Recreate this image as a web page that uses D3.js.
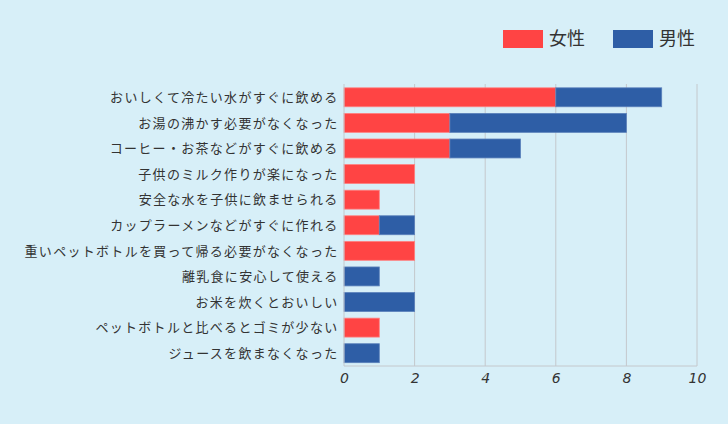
<!DOCTYPE html>
<html><head><meta charset="utf-8">
<script src="https://cdn.jsdelivr.net/npm/d3@7"></script>
<style>
html,body{margin:0;padding:0;background:#d7eff8;}
svg{display:block;}
</style></head>
<body>
<svg id="c" width="728" height="424"></svg>
<script>
const categories = [
  "おいしくて冷たい水がすぐに飲める",
  "お湯の沸かす必要がなくなった",
  "コーヒー・お茶などがすぐに飲める",
  "子供のミルク作りが楽になった",
  "安全な水を子供に飲ませられる",
  "カップラーメンなどがすぐに作れる",
  "重いペットボトルを買って帰る必要がなくなった",
  "離乳食に安心して使える",
  "お米を炊くとおいしい",
  "ペットボトルと比べるとゴミが少ない",
  "ジュースを飲まなくなった"
];
const female = [6, 3, 3, 2, 1, 1, 2, 0, 0, 1, 0];
const male   = [3, 5, 2, 0, 0, 1, 0, 1, 2, 0, 1];
const seriesNames = ["女性", "男性"];
const seriesColors = ["#ff4444", "#2e5ea6"];
const tickValues = [0, 2, 4, 6, 8, 10];

const font = "'Noto Sans CJK JP','Noto Sans',sans-serif";
const svg = d3.select("#c");
svg.append("rect").attr("width",728).attr("height",424).attr("fill","#d7eff8");

const x = d3.scaleLinear().domain([0,10]).range([344,697]);
const y = d3.scaleBand().domain(categories).range([84.5,366]).paddingInner(0.26).paddingOuter(0.13);

// gridlines
svg.append("g").selectAll("line").data(tickValues.slice(1)).join("line")
  .attr("x1",d=>x(d)).attr("x2",d=>x(d)).attr("y1",84).attr("y2",366)
  .attr("stroke","#c4c8cc").attr("stroke-width",1);

const rows = categories.map((c,i)=>({c, vals:[female[i], male[i]]}));
const segs = [];
rows.forEach(r=>{ let acc=0; r.vals.forEach((v,k)=>{ if(v>0) segs.push({c:r.c,x0:acc,x1:acc+v,k}); acc+=v; }); });

svg.append("g").selectAll("rect").data(segs).join("rect")
  .attr("x",d=>x(d.x0)).attr("width",d=>x(d.x1)-x(d.x0))
  .attr("y",d=>y(d.c)).attr("height",y.bandwidth())
  .attr("fill",d=>seriesColors[d.k])
  .attr("stroke",d=>d.k===0?"#ff8080":"#5a80bb").attr("stroke-width",0.8);

// axes lines
svg.append("line").attr("x1",344).attr("x2",344).attr("y1",84).attr("y2",366).attr("stroke","#c4c8cc");
svg.append("line").attr("x1",344).attr("x2",697).attr("y1",366).attr("y2",366).attr("stroke","#c4c8cc");

// category labels
svg.append("g").selectAll("text").data(categories).join("text")
  .attr("x",338.5).attr("y",d=>y(d)+y.bandwidth()/2).attr("dy","0.36em")
  .attr("text-anchor","end").attr("font-family",font).attr("font-size",13)
  .attr("letter-spacing","1.3px")
  .attr("fill","#333").text(d=>d);

// x ticks
const xa = d3.axisBottom(x).tickValues(tickValues).tickSize(0).tickPadding(7);
const gx = svg.append("g").attr("transform","translate(0,366)").call(xa);
gx.select(".domain").remove();
gx.selectAll("text").attr("font-family","'DejaVu Sans',sans-serif").attr("font-size",14).attr("fill","#333").attr("font-style","italic");

// legend
const lg = svg.append("g");
const lx = [503, 613];
seriesNames.forEach((n,i)=>{
  lg.append("rect").attr("x",lx[i]).attr("y",30).attr("width",40).attr("height",18).attr("fill",seriesColors[i]);
  lg.append("text").attr("x",lx[i]+46).attr("y",39).attr("dy","0.36em")
    .attr("font-family",font).attr("font-size",18).attr("fill","#333").text(n);
});
</script>
</body></html>
